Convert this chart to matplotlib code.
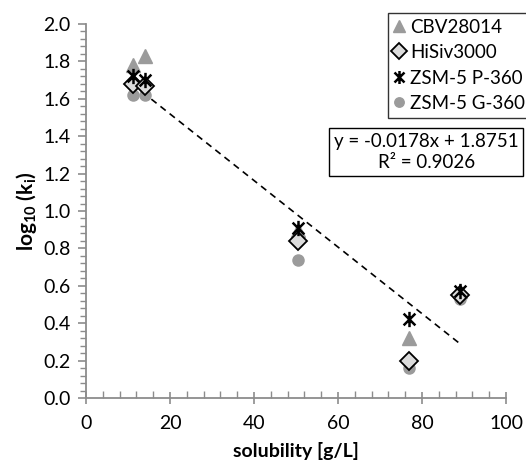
import numpy as np
import matplotlib
matplotlib.use("Agg")
import matplotlib.pyplot as plt
from matplotlib.path import Path
from matplotlib.ticker import MultipleLocator, FormatStrFormatter

plt.rcParams['font.family'] = ['Lato', 'DejaVu Sans']
plt.rcParams['mathtext.default'] = 'regular'

# solubility [g/L]
solubility = [11.2, 14.0, 50.5, 77.0, 89.0]
# log10(ki) for each adsorbent
cbv28014 = [1.78, 1.83, 0.90, 0.32, 0.57]
hisiv3000 = [1.68, 1.67, 0.84, 0.20, 0.55]
zsm5_p360 = [1.72, 1.70, 0.91, 0.42, 0.57]
zsm5_g360 = [1.62, 1.62, 0.74, 0.16, 0.53]
# trend line given in the chart
slope, intercept, r2 = -0.0178, 1.8751, 0.9026

# Excel-style star marker: x plus vertical bar
star = Path([(-1, -1), (1, 1), (-1, 1), (1, -1), (0, -1.3), (0, 1.3)],
            [Path.MOVETO, Path.LINETO, Path.MOVETO, Path.LINETO, Path.MOVETO, Path.LINETO])

fig = plt.figure(figsize=(5.26, 4.65), dpi=100)
ax = fig.add_axes([86/526, 1-398/465, 420/526, 374/465])

gray = '#9b9b9b'
ax.plot(solubility, cbv28014, '^', color=gray, ms=10, mec=gray, label='CBV28014', zorder=3)
ax.plot(solubility, hisiv3000, 'D', ms=9, mfc='#dcdcdc', mec='black', mew=1.3, label='HiSiv3000', zorder=4)
ax.plot(solubility, zsm5_p360, ls='none', marker=star, ms=11, mec='black', mfc='none', mew=1.8,
        label='ZSM-5 P-360', zorder=5)
ax.plot(solubility, zsm5_g360, 'o', color=gray, ms=8, label='ZSM-5 G-360', zorder=2)

xs = np.array([min(solubility), max(solubility)])
ax.plot(xs, slope*xs + intercept, '--', color='black', lw=1.2, dashes=(4, 3), zorder=1)

ax.set_xlim(0, 100)
ax.set_ylim(0, 2.0)
ax.xaxis.set_major_locator(MultipleLocator(20))
ax.xaxis.set_minor_locator(MultipleLocator(4))
ax.yaxis.set_major_locator(MultipleLocator(0.2))
ax.yaxis.set_minor_locator(MultipleLocator(0.04))
ax.yaxis.set_major_formatter(FormatStrFormatter('%.1f'))

spine_c = '#8c8c8c'
for s in ['top', 'right']:
    ax.spines[s].set_visible(False)
for s in ['left', 'bottom']:
    ax.spines[s].set_color(spine_c)
    ax.spines[s].set_linewidth(1.3)

ax.tick_params(axis='x', which='major', direction='inout', length=9, width=1.2, color=spine_c,
               labelsize=14, pad=8)
ax.tick_params(axis='x', which='minor', direction='in', length=5, width=1.0, color=spine_c)
ax.tick_params(axis='y', which='major', direction='out', length=6, width=1.2, color=spine_c,
               labelsize=14, pad=5)
ax.tick_params(axis='y', which='minor', direction='out', length=4, width=1.0, color=spine_c)

ax.set_xlabel('solubility [g/L]', fontsize=14, fontweight='bold', labelpad=7)
ax.set_ylabel('log$_{10}$ (k$_i$)', fontsize=15, fontweight='bold', labelpad=3)

leg = fig.legend(loc='upper left', bbox_to_anchor=(388/526, 1-13/465), bbox_transform=fig.transFigure,
                 borderaxespad=0, fontsize=13.5, handlelength=0.6, handletextpad=0.3,
                 labelspacing=0.45, borderpad=0.3, frameon=True, fancybox=False, markerscale=0.85)
leg.get_frame().set_edgecolor('black')
leg.get_frame().set_linewidth(1.0)

fig.text(334/526, 1-152/465, 'y = -0.0178x + 1.8751\nR² = 0.9026', fontsize=13.5, ha='left', va='center',
         multialignment='center', linespacing=1.3,
         bbox=dict(boxstyle='square,pad=0.25', fc='white', ec='black', lw=1.0))

fig.savefig('out.png', dpi=100)
